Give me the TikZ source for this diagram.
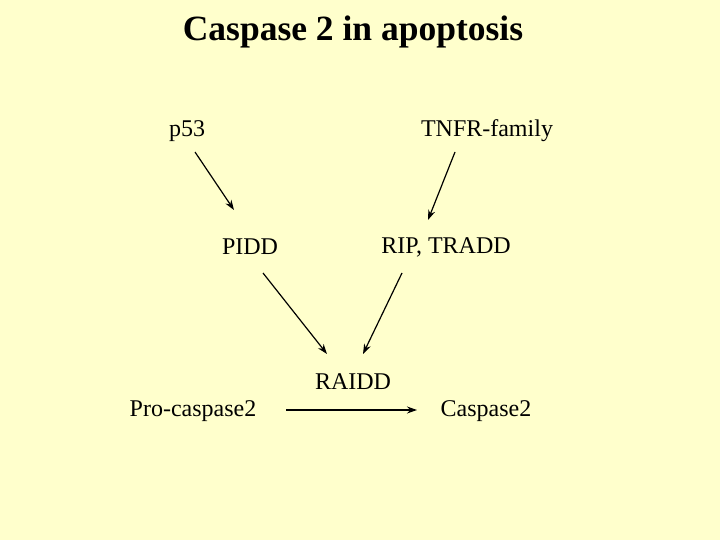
\documentclass[tikz,border=0pt]{standalone}
\usepackage{fontspec}
\setmainfont{Liberation Serif}
\usetikzlibrary{arrows.meta}
\definecolor{bg}{HTML}{FFFFCC}
\begin{document}
\begin{tikzpicture}[x=1pt,y=-1pt,
  lbl/.style={inner sep=0pt,font=\fontsize{24}{27}\selectfont},
  arr/.style={-{Stealth[length=10pt,width=7pt]},line width=1.2pt}]
\fill[bg] (0,0) rectangle (720,540);
\useasboundingbox (0,0) rectangle (720,540);
\node[inner sep=0pt,font=\fontsize{35.5}{40}\selectfont\bfseries] (title) at (353,32) {Caspase 2 in apoptosis};
\node[lbl] (p53) at (187,131) {p53};
\node[lbl] (tnfr) at (487,131) {TNFR-family};
\node[lbl] (pidd) at (250,247) {PIDD};
\node[lbl] (rip) at (446,247) {RIP, TRADD};
\node[lbl] (raidd) at (353,382) {RAIDD};
\node[lbl] (pro) at (193,411) {Pro-caspase2};
\node[lbl] (casp) at (486,411) {Caspase2};
\coordinate (a1s) at (195,152); \coordinate (a1e) at (234,210);
\coordinate (a2s) at (455,152); \coordinate (a2e) at (428,220);
\coordinate (a3s) at (263,273); \coordinate (a3e) at (327,354);
\coordinate (a4s) at (402,273); \coordinate (a4e) at (363,354);
\coordinate (a5s) at (286,410); \coordinate (a5e) at (417,410);
\draw[arr] (a1s) -- (a1e);
\draw[arr] (a2s) -- (a2e);
\draw[arr] (a3s) -- (a3e);
\draw[arr] (a4s) -- (a4e);
\draw[arr] (a5s) -- (a5e);
\end{tikzpicture}
\end{document}
